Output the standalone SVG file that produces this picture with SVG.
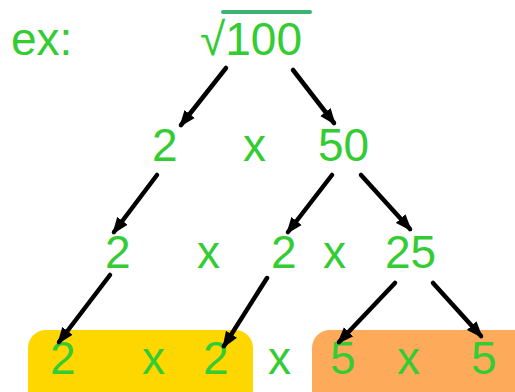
<svg xmlns="http://www.w3.org/2000/svg" width="515" height="392" viewBox="0 0 515 392">
<style>
.t{font-family:"Liberation Sans",Arial,sans-serif;font-size:46px;fill:#33cc33}
.a{stroke:#000;stroke-width:4.5;stroke-linecap:round;fill:none;marker-end:url(#ah)}
</style>
<defs>
<marker id="ah" markerUnits="userSpaceOnUse" markerWidth="18" markerHeight="14" refX="14" refY="6.5" orient="auto" viewBox="0 0 18 13">
<path d="M0,0 L17,6.5 L0,13 z" fill="#000"/>
</marker>
</defs>
<rect x="28" y="330" width="225" height="80" rx="18" fill="#ffd700"/>
<rect x="312" y="330" width="230" height="80" rx="18" fill="#fdab5a"/>
<g id="label-ex"><text class="t" x="11" y="55">ex:</text></g>
<g id="root">
<text class="t" x="200" y="55">√100</text>
<line x1="223" y1="12" x2="310" y2="12" stroke="#3cb371" stroke-width="4" stroke-linecap="round"/>
</g>
<g id="row2">
<text class="t" x="152" y="161">2</text>
<text class="t" x="243" y="161">x</text>
<text class="t" x="318" y="161">50</text>
</g>
<g id="row3">
<text class="t" x="105" y="268">2</text>
<text class="t" x="197" y="268">x</text>
<text class="t" x="271" y="268">2</text>
<text class="t" x="323" y="268">x</text>
<text class="t" x="385" y="268">25</text>
</g>
<g id="row4">
<text class="t" x="50" y="374">2</text>
<text class="t" x="142" y="374">x</text>
<text class="t" x="203" y="374">2</text>
<text class="t" x="268" y="374">x</text>
<text class="t" x="330" y="374">5</text>
<text class="t" x="397" y="374">x</text>
<text class="t" x="471" y="374">5</text>
</g>
<g id="connectors">
<line class="a" x1="226" y1="68" x2="181" y2="125"/>
<line class="a" x1="293" y1="70" x2="334" y2="123"/>
<line class="a" x1="157" y1="175" x2="114" y2="232"/>
<line class="a" x1="332" y1="175" x2="288" y2="232"/>
<line class="a" x1="361" y1="175" x2="410" y2="229"/>
<line class="a" x1="110" y1="275" x2="59" y2="342"/>
<line class="a" x1="267" y1="278" x2="224" y2="346"/>
<line class="a" x1="395" y1="283" x2="339" y2="342"/>
<line class="a" x1="433" y1="283" x2="481" y2="336"/>
</g>
</svg>
